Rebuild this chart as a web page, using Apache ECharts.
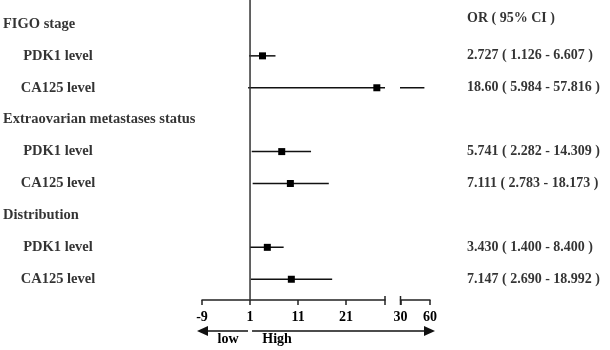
<!DOCTYPE html>
<html>
<head>
<meta charset="utf-8">
<script src="https://cdn.jsdelivr.net/npm/echarts@6/dist/echarts.min.js"></script>
<style>
  html, body { margin: 0; padding: 0; background: #fff; }
  #main { width: 610px; height: 350px; }
</style>
</head>
<body>
<div id="main"></div>
<script>
// rows of the plot, top to bottom
const rowLabels = ['FIGO stage', 'PDK1 level', 'CA125 level',
    'Extraovarian metastases status', 'PDK1 level', 'CA125 level',
    'Distribution', 'PDK1 level', 'CA125 level'];
const isHeader = [true, false, false, true, false, false, true, false, false];

// OR (95% CI) text as printed
const orHeader = 'OR ( 95% CI )';
const orText = ['2.727 ( 1.126 - 6.607 )', '18.60 ( 5.984 - 57.816 )',
    '5.741 ( 2.282 - 14.309 )', '7.111 ( 2.783 - 18.173 )',
    '3.430 ( 1.400 - 8.400 )', '7.147 ( 2.690 - 18.992 )'];

// where the marks sit on the drawn axis
const estimates = [3.6, 27.4, 7.6, 9.4, 4.6, 9.6];
const lowers = [0.8, 0.6, 1.35, 1.55, 1.0, 1.15];
const uppers = [6.3, 54.3, 13.7, 17.4, 8.0, 18.1];

// broken x axis
const leftTicks = [-9, 1, 11, 21];
const rightTicks = [30, 60];
const leftRange = [-9, 29.1];
const rightRange = [30, 60];
const refValue = 1;

const FONT = '"Liberation Serif", "Times New Roman", serif';
const rowY = [];
rowLabels.forEach((l, i) => { if (!isHeader[i]) rowY.push(i); });
const ciData = estimates.map((e, i) => [lowers[i], uppers[i], e, rowY[i]]);

const chart = echarts.init(document.getElementById('main'));

const yAxisBase = (gi) => ({
    type: 'value', gridIndex: gi, min: -0.75, max: 8.65, inverse: true, show: false
});

const ciRender = (params, api) => {
    const row = api.value(3);
    const cs = params.coordSys;
    const p1 = api.coord([api.value(0), row]);
    const p2 = api.coord([api.value(1), row]);
    const pm = api.coord([api.value(2), row]);
    const children = [
        { type: 'line', shape: { x1: p1[0], y1: p1[1], x2: p2[0], y2: p2[1] },
          style: { stroke: '#111', lineWidth: 1.5 } }
    ];
    // only draw the square in the segment that holds it
    if (pm[0] >= cs.x && pm[0] <= cs.x + cs.width) {
        children.push({ type: 'rect', shape: { x: pm[0] - 3.5, y: pm[1] - 3.5, width: 7, height: 7 },
                        style: { fill: '#000' } });
    }
    return { type: 'group', children: children };
};

const capRender = (params, api) => {
    const p = api.coord([api.value(0), 8.65]);
    return { type: 'line', shape: { x1: p[0], y1: p[1] - 4, x2: p[0], y2: p[1] + 5 },
             style: { stroke: '#222', lineWidth: 1.5 } };
};

const xAxisStyle = {
    position: 'bottom',
    axisLine: { show: true, onZero: false, lineStyle: { color: '#222', width: 1.5 } },
    axisTick: { show: true, length: 5, lineStyle: { color: '#222', width: 1.5 } },
    axisLabel: { color: '#000', fontFamily: FONT, fontWeight: 'bold', fontSize: 14, margin: 10 },
    splitLine: { show: false }
};

chart.setOption({
    animation: false,
    backgroundColor: '#fff',
    grid: [
        { left: 0, top: 0, width: 240, height: 300 },
        { left: 202, top: 0, width: 183, height: 300 },
        { left: 400.5, top: 0, width: 29.5, height: 300 },
        { left: 440, top: 0, width: 170, height: 300 }
    ],
    xAxis: [
        { type: 'value', gridIndex: 0, min: 0, max: 240, show: false },
        Object.assign({ type: 'value', gridIndex: 1, min: leftRange[0], max: leftRange[1] }, xAxisStyle, {
            axisTick: Object.assign({}, xAxisStyle.axisTick, { customValues: leftTicks }),
            axisLabel: Object.assign({}, xAxisStyle.axisLabel, { customValues: leftTicks })
        }),
        Object.assign({ type: 'value', gridIndex: 2, min: rightRange[0], max: rightRange[1] }, xAxisStyle, {
            axisTick: Object.assign({}, xAxisStyle.axisTick, { customValues: rightTicks }),
            axisLabel: Object.assign({}, xAxisStyle.axisLabel, { customValues: rightTicks })
        }),
        { type: 'value', gridIndex: 3, min: 0, max: 170, show: false }
    ],
    yAxis: [yAxisBase(0), yAxisBase(1), yAxisBase(2), yAxisBase(3)],
    series: [
        {
            type: 'scatter', xAxisIndex: 0, yAxisIndex: 0, symbolSize: 0, silent: true,
            data: rowLabels.map((l, i) => ({
                value: [isHeader[i] ? 3 : 58, i],
                label: {
                    show: true, formatter: l,
                    position: isHeader[i] ? 'right' : 'inside',
                    distance: 0,
                    align: isHeader[i] ? 'left' : 'center',
                    verticalAlign: 'middle',
                    color: '#000', fontFamily: FONT, fontWeight: 'bold', fontSize: 14.5
                }
            }))
        },
        {
            type: 'scatter', xAxisIndex: 3, yAxisIndex: 3, symbolSize: 0, silent: true,
            data: [{ value: [27, -0.16], text: orHeader }]
                .concat(orText.map((t, i) => ({ value: [27, rowY[i]], text: t })))
                .map(d => ({
                    value: d.value,
                    label: {
                        show: true, formatter: d.text, position: 'right', distance: 0,
                        align: 'left', verticalAlign: 'middle',
                        color: '#000', fontFamily: FONT, fontWeight: 'bold', fontSize: 14
                    }
                }))
        },
        {
            type: 'line', xAxisIndex: 1, yAxisIndex: 1, symbol: 'none', silent: true,
            data: [[refValue, -0.75], [refValue, 8.65]],
            lineStyle: { color: '#333', width: 1.5 }
        },
        { type: 'custom', xAxisIndex: 1, yAxisIndex: 1, clip: true, silent: true,
          renderItem: ciRender, data: ciData },
        { type: 'custom', xAxisIndex: 2, yAxisIndex: 2, clip: true, silent: true,
          renderItem: ciRender, data: ciData },
        { type: 'custom', xAxisIndex: 1, yAxisIndex: 1, silent: true,
          renderItem: capRender, data: [[leftRange[1]]] },
        { type: 'custom', xAxisIndex: 2, yAxisIndex: 2, silent: true,
          renderItem: capRender, data: [[rightRange[0]]] }
    ]
});

// low / High direction arrows under the axis
const xRef = chart.convertToPixel({ xAxisIndex: 1 }, refValue);
const xLeft = chart.convertToPixel({ xAxisIndex: 1 }, leftRange[0]);
const xRight = chart.convertToPixel({ xAxisIndex: 2 }, rightRange[1]);
const ay = 331;
const arrowStyle = { stroke: '#111', lineWidth: 1.5 };
chart.setOption({
    graphic: [
        { type: 'line', shape: { x1: xRef - 2, y1: ay, x2: xLeft, y2: ay }, style: arrowStyle },
        { type: 'polygon', shape: { points: [[xLeft - 5, ay], [xLeft + 6, ay - 5], [xLeft + 6, ay + 5]] },
          style: { fill: '#111' } },
        { type: 'line', shape: { x1: xRef + 2, y1: ay, x2: xRight, y2: ay }, style: arrowStyle },
        { type: 'polygon', shape: { points: [[xRight + 5, ay], [xRight - 6, ay - 5], [xRight - 6, ay + 5]] },
          style: { fill: '#111' } },
        { type: 'text', x: (xLeft + xRef) / 2 + 2, y: ay + 8,
          style: { text: 'low', fill: '#000', font: 'bold 14px ' + FONT, textAlign: 'center', textVerticalAlign: 'middle' } },
        { type: 'text', x: xRef + 27, y: ay + 8,
          style: { text: 'High', fill: '#000', font: 'bold 14px ' + FONT, textAlign: 'center', textVerticalAlign: 'middle' } }
    ]
});
</script>
</body>
</html>
